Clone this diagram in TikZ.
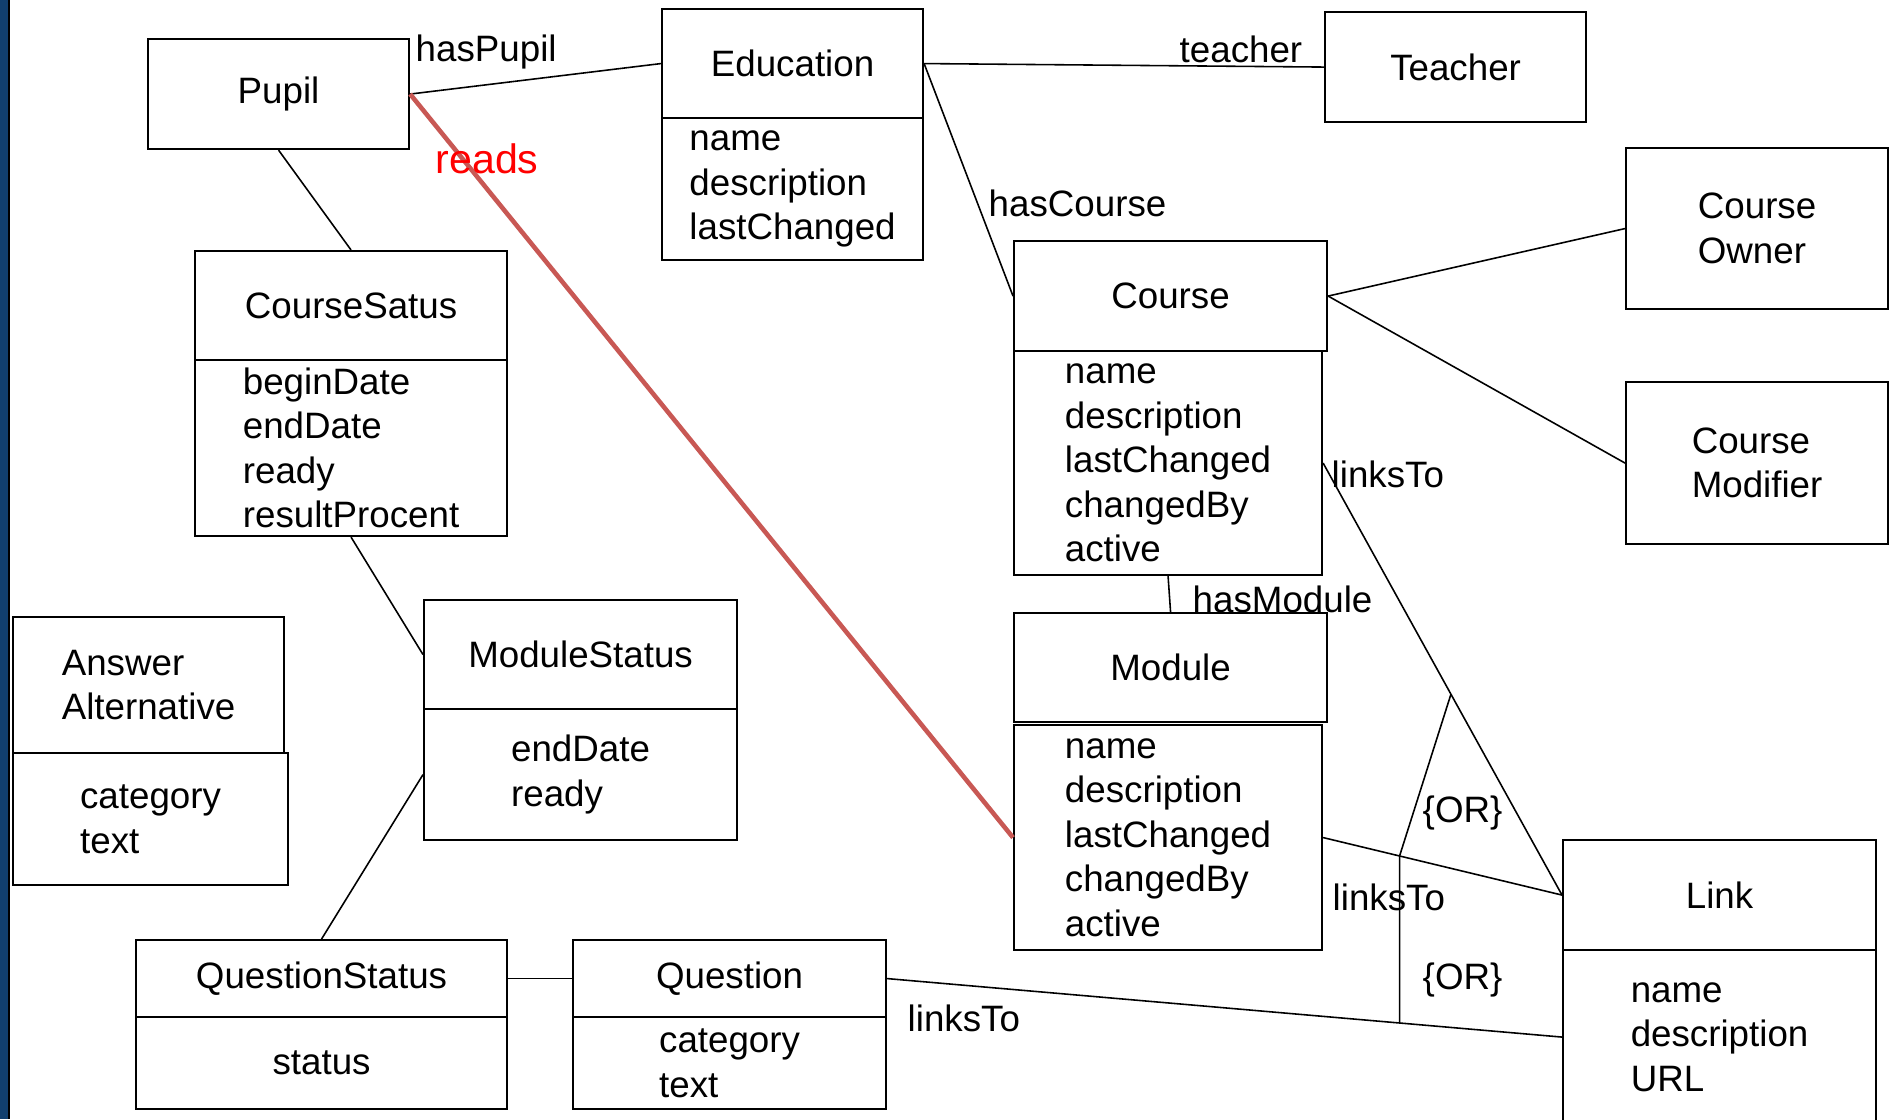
\documentclass[tikz,border=0pt]{standalone}
\usepackage{fontspec}
\setmainfont{Liberation Sans}
\definecolor{readsline}{RGB}{200,88,84}
\definecolor{slideblue}{RGB}{17,63,110}

\begin{document}
\begin{tikzpicture}[font=\fontsize{10.45}{12.65}\selectfont]
    % Node styles
    \tikzset{
      box/.style={draw, line width=0.6pt, inner sep=0pt, anchor=north west, align=left},
      lbl/.style={inner sep=0pt, anchor=base west},
      assoc/.style={line width=0.45pt}
    }
    \useasboundingbox (0,0) rectangle (18.92,-11.19);

    % --- Slide edge ---
    \fill[slideblue] (0,0) rectangle (0.08,-11.19);
    \draw[line width=0.6pt] (0.09,0) -- (0.09,-11.19);

    % --- Top row ---
    \node[box, minimum width=2.61cm, minimum height=1.10cm] (pupil) at (1.47,-0.38) {Pupil};
    \node[box, minimum width=2.61cm, minimum height=1.09cm] (edu) at (6.61,-0.08) {Education};
    \node[box, minimum width=2.61cm, minimum height=1.42cm] (eduattr) at (6.61,-1.17) {name\\description\\lastChanged};
    \node[box, minimum width=2.61cm, minimum height=1.10cm] (teacher) at (13.24,-0.11) {Teacher};

    % --- Course and its roles ---
    \node[box, minimum width=3.13cm, minimum height=1.10cm] (course) at (10.13,-2.40) {Course};
    \node[box, minimum width=3.08cm, minimum height=2.24cm] (courseattr) at (10.13,-3.50) {name\\description\\lastChanged\\changedBy\\active};
    \node[box, minimum width=2.62cm, minimum height=1.61cm] (owner) at (16.25,-1.47) {Course\\Owner};
    \node[box, minimum width=2.62cm, minimum height=1.62cm] (modifier) at (16.25,-3.81) {Course\\Modifier};

    % --- Module and link ---
    \node[box, minimum width=3.13cm, minimum height=1.09cm] (module) at (10.13,-6.12) {Module};
    \node[box, minimum width=3.08cm, minimum height=2.25cm] (moduleattr) at (10.13,-7.24) {name\\description\\lastChanged\\changedBy\\active};
    \node[box, minimum width=3.13cm, minimum height=1.10cm] (link) at (15.62,-8.39) {Link};
    \node[box, minimum width=3.13cm, minimum height=1.74cm] (linkattr) at (15.62,-9.49) {name\\description\\URL};

    % --- Status classes ---
    \node[box, minimum width=3.12cm, minimum height=1.09cm] (cstat) at (1.94,-2.50) {CourseSatus};
    \node[box, minimum width=3.12cm, minimum height=1.76cm] (cstatattr) at (1.94,-3.59) {beginDate\\endDate\\ready\\resultProcent};
    \node[box, minimum width=3.13cm, minimum height=1.09cm] (mstat) at (4.23,-5.99) {ModuleStatus};
    \node[box, minimum width=3.13cm, minimum height=1.31cm] (mstatattr) at (4.23,-7.08) {endDate\\ready};
    \node[box, minimum width=3.71cm, minimum height=0.77cm] (qstat) at (1.35,-9.39) {QuestionStatus};
    \node[box, minimum width=3.71cm, minimum height=0.92cm] (qstatattr) at (1.35,-10.16) {status};

    % --- Questions ---
    \node[box, minimum width=3.13cm, minimum height=0.77cm] (question) at (5.72,-9.39) {Question};
    \node[box, minimum width=3.13cm, minimum height=0.92cm] (questionattr) at (5.72,-10.16) {category\\text};
    \node[box, minimum width=2.71cm, minimum height=1.36cm] (answer) at (0.12,-6.16) {Answer\\Alternative};
    \node[box, minimum width=2.75cm, minimum height=1.32cm] (answerattr) at (0.12,-7.52) {category\\text};

    % --- Associations ---
    \draw[assoc] (pupil.east) -- (edu.west);
    \draw[assoc] (pupil.south) -- (cstat.north);
    \draw[assoc] (edu.east) -- (teacher.west);
    \draw[assoc] (edu.east) -- (course.west);
    \draw[assoc] (course.east) -- (owner.west);
    \draw[assoc] (course.east) -- (modifier.west);
    \draw[assoc] (courseattr.south) -- (module.north);
    \draw[assoc] (cstatattr.south) -- (mstat.west);
    \draw[assoc] (mstatattr.west) -- (qstat.north);
    \draw[assoc] (qstat.east) -- (question.west);

    % --- linksTo with {OR} constraint ---
    \draw[assoc] (courseattr.east) -- coordinate[pos=0.535] (or1) (link.west);
    \draw[assoc] (moduleattr.east) -- coordinate[pos=0.32] (or2) (link.west);
    \draw[assoc] (question.east) -- coordinate[pos=0.758] (or3) (linkattr.west);
    \draw[assoc] (or1) -- (or2) -- (or2 |- or3);

    % --- reads (red) ---
    \draw[readsline, line width=1.3pt] (pupil.east) -- (moduleattr.west);

    % --- Labels ---
    \node[lbl] (haspupil) at (4.15,-0.617) {hasPupil};
    \node[lbl] (teacherlbl) at (11.79,-0.62) {teacher};
    \node[lbl] (hascourse) at (9.88,-2.167) {hasCourse};
    \node[lbl] (linkscourse) at (13.31,-4.87) {linksTo};
    \node[lbl] (hasmodule) at (11.92,-6.12) {hasModule};
    \node[lbl] (linksmodule) at (13.32,-9.10) {linksTo};
    \node[lbl] (linksquestion) at (9.07,-10.317) {linksTo};
    \node[lbl] (orone) at (14.22,-8.22) {\{OR\}};
    \node[lbl] (ortwo) at (14.22,-9.89) {\{OR\}};
    \node[lbl, red, font=\fontsize{11.7}{14}\selectfont] (reads) at (4.35,-1.73) {reads};

\end{tikzpicture}
\end{document}
